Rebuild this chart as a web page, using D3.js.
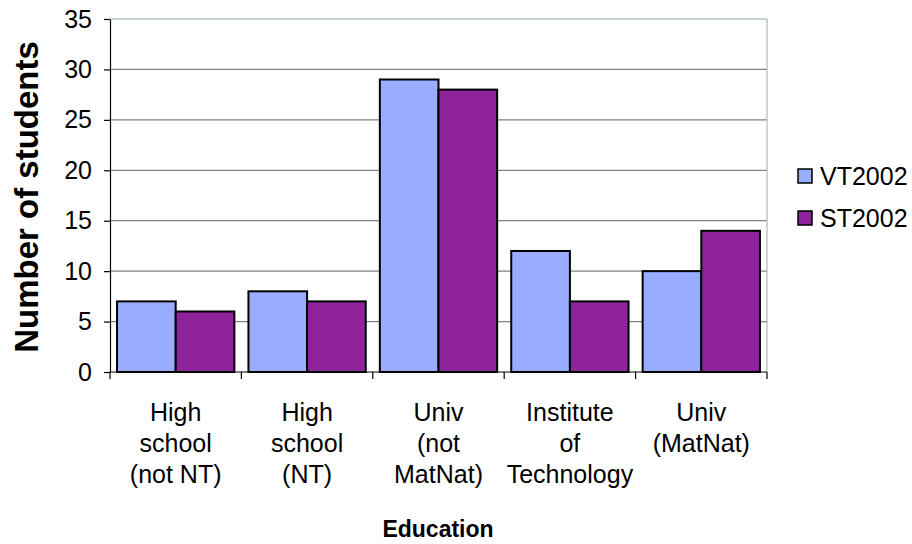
<!DOCTYPE html>
<html>
<head>
<meta charset="utf-8">
<script src="https://cdn.jsdelivr.net/npm/d3@7"></script>
<style>
  body { margin: 0; background: #fff; }
  text { font-family: "Liberation Sans", Arial, sans-serif; fill: #000; }
</style>
</head>
<body>
<div id="chart"></div>
<script>
let width = 912;
let height = 544;

// data
const categories = ["High school (not NT)", "High school (NT)", "Univ (not MatNat)", "Institute of Technology", "Univ (MatNat)"];
const categoryLines = [
    ["High", "school", "(not NT)"],
    ["High", "school", "(NT)"],
    ["Univ", "(not", "MatNat)"],
    ["Institute", "of", "Technology"],
    ["Univ", "(MatNat)"]
];
const seriesNames = ["VT2002", "ST2002"];
const vt2002 = [7, 8, 29, 12, 10];
const st2002 = [6, 7, 28, 7, 14];
const yTicks = [0, 5, 10, 15, 20, 25, 30, 35];

const colors = ["#9AACFF", "#8E239B"];

const plot = {left: 110, top: 19, right: 767, bottom: 372};

let svg = d3.select("#chart")
    .append("svg")
    .attr("width", width)
    .attr("height", height);

let x = d3.scaleBand()
    .domain(categories)
    .range([plot.left, plot.right])
    .paddingInner(0)
    .paddingOuter(0);

let xSub = d3.scaleBand()
    .domain(seriesNames)
    .range([0, x.bandwidth()])
    .paddingOuter(0.12)
    .paddingInner(0);

let y = d3.scaleLinear()
    .domain([0, 35])
    .range([plot.bottom, plot.top]);

// gridlines
svg.append("g")
    .selectAll("line")
    .data(yTicks.filter(d => d > 0))
    .join("line")
    .attr("x1", plot.left)
    .attr("x2", plot.right)
    .attr("y1", d => y(d))
    .attr("y2", d => y(d))
    .attr("stroke", d => d === 35 ? "#8FA3AB" : "#808080")
    .attr("stroke-width", 1.2);

// right border of plot area
svg.append("line")
    .attr("x1", plot.right).attr("x2", plot.right)
    .attr("y1", plot.top).attr("y2", plot.bottom)
    .attr("stroke", "#A9BAC2")
    .attr("stroke-width", 1.2);

// bars
const rows = categories.map((c, i) => ({cat: c, values: [vt2002[i], st2002[i]]}));

svg.append("g")
    .selectAll("g")
    .data(rows)
    .join("g")
    .attr("transform", d => `translate(${x(d.cat)},0)`)
    .selectAll("rect")
    .data(d => d.values.map((v, j) => ({key: seriesNames[j], value: v, j: j})))
    .join("rect")
    .attr("x", d => xSub(d.key))
    .attr("width", xSub.bandwidth())
    .attr("y", d => y(d.value))
    .attr("height", d => y(0) - y(d.value))
    .attr("fill", d => colors[d.j])
    .attr("stroke", "#000")
    .attr("stroke-width", 2);

// y axis
const yAxis = svg.append("g")
    .attr("transform", `translate(${plot.left},0)`)
    .call(d3.axisLeft(y).tickValues(yTicks).tickSize(6).tickPadding(12).tickSizeOuter(0));
yAxis.select(".domain").attr("stroke", "#000").attr("stroke-width", 1.2);
yAxis.selectAll(".tick line").attr("stroke", "#000").attr("stroke-width", 1.2);
yAxis.selectAll(".tick text")
    .style("font-family", "'Liberation Sans', Arial, sans-serif")
    .style("font-size", "25px")
    .attr("fill", "#000");

// x axis line and boundary ticks
svg.append("line")
    .attr("x1", plot.left).attr("x2", plot.right)
    .attr("y1", plot.bottom).attr("y2", plot.bottom)
    .attr("stroke", "#000").attr("stroke-width", 1.2);

const boundaries = categories.map(c => x(c)).concat([plot.right]);
svg.append("g")
    .selectAll("line")
    .data(boundaries)
    .join("line")
    .attr("x1", d => d).attr("x2", d => d)
    .attr("y1", plot.bottom).attr("y2", plot.bottom + 7)
    .attr("stroke", "#000").attr("stroke-width", 1.2);

// category labels
svg.append("g")
    .selectAll("text")
    .data(categories)
    .join("text")
    .attr("text-anchor", "middle")
    .style("font-size", "25px")
    .each(function(d, i) {
        d3.select(this).selectAll("tspan")
            .data(categoryLines[i])
            .join("tspan")
            .attr("x", x(d) + x.bandwidth() / 2)
            .attr("y", (t, k) => 421 + k * 31)
            .text(t => t);
    });

// axis titles
svg.append("text")
    .attr("x", 438)
    .attr("y", 537)
    .attr("text-anchor", "middle")
    .style("font-size", "23px")
    .style("font-weight", "bold")
    .text("Education");

svg.append("text")
    .attr("transform", "translate(38,197) rotate(-90)")
    .attr("text-anchor", "middle")
    .style("font-size", "33px")
    .style("font-weight", "bold")
    .text("Number of students");

// legend
const legend = svg.append("g")
    .selectAll("g")
    .data(seriesNames)
    .join("g")
    .attr("transform", (d, i) => `translate(798,${169 + i * 42})`);

legend.append("rect")
    .attr("width", 14)
    .attr("height", 14)
    .attr("fill", (d, i) => colors[i])
    .attr("stroke", "#000")
    .attr("stroke-width", 1.5);

legend.append("text")
    .attr("x", 22)
    .attr("y", 16)
    .style("font-size", "25px")
    .text(d => d);
</script>
</body>
</html>
